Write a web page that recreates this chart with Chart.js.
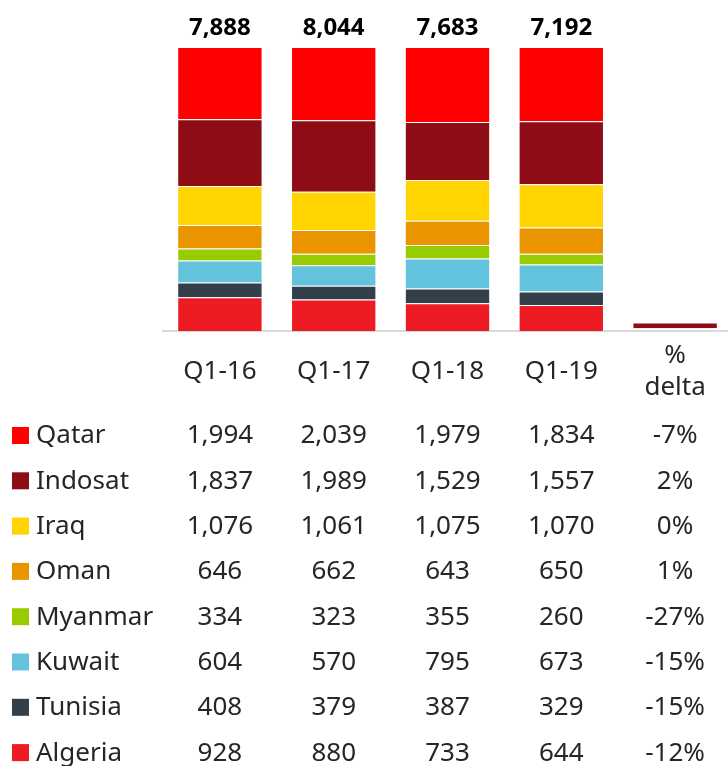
<!DOCTYPE html>
<html>
<head>
<meta charset="utf-8">
<script src="https://cdn.jsdelivr.net/npm/chart.js@4.4.1/dist/chart.umd.min.js"></script>
<style>
  html, body { margin: 0; padding: 0; background: #fff; overflow: hidden; }
  #wrap { width: 728px; height: 766px; position: relative; overflow: hidden; }
</style>
</head>
<body>
<div id="wrap"><canvas id="chart" width="732" height="766"></canvas></div>
<script>
// Categories (columns)
const periods = ['Q1-16', 'Q1-17', 'Q1-18', 'Q1-19'];
const deltaLabel = ['%', 'delta'];

// Series, in table order (top of table = top of stack)
const countries = ['Qatar', 'Indosat', 'Iraq', 'Oman', 'Myanmar', 'Kuwait', 'Tunisia', 'Algeria'];
const qatar   = [1994, 2039, 1979, 1834];
const indosat = [1837, 1989, 1529, 1557];
const iraq    = [1076, 1061, 1075, 1070];
const oman    = [646, 662, 643, 650];
const myanmar = [334, 323, 355, 260];
const kuwait  = [604, 570, 795, 673];
const tunisia = [408, 379, 387, 329];
const algeria = [928, 880, 733, 644];
const totals  = [7888, 8044, 7683, 7192];
const deltas  = [-7, 2, 0, 1, -27, -15, -15, -12];

const colors = ['#ff0000', '#8e0c15', '#ffd400', '#ea9400', '#99cc00', '#63c3dc', '#333f4a', '#ed1c24'];

const seriesValues = [qatar, indosat, iraq, oman, myanmar, kuwait, tunisia, algeria];

const FONT = '"Noto Sans", "Open Sans", sans-serif';
const TEXT = '#262626';

// 100% stacked: share of the shown segments in each column, plus the delta column
const colSums = periods.map((_, j) => seriesValues.reduce((s, arr) => s + arr[j], 0));
const datasets = countries.map((name, i) => {
    const shares = seriesValues[i].map((v, j) => v / colSums[j] * 100);
    return {
        label: name,
        data: shares.concat([Math.max(deltas[i], 0)]),
        backgroundColor: (ctx) => (ctx.dataIndex === 4 && name === 'Oman') ? 'rgba(255,255,255,0)' : colors[i],
        borderColor: 'rgba(255,255,255,0.5)',
        borderWidth: 1,
        barPercentage: 0.75,
        categoryPercentage: 1.0
    };
}).reverse(); // bottom of stack first

const tablePlugin = {
    id: 'tablePlugin',
    afterDraw(chart) {
        const ctx = chart.ctx;
        const x = chart.scales.x;
        ctx.save();
        ctx.textAlign = 'center';
        ctx.textBaseline = 'middle';

        // totals above bars
        ctx.fillStyle = '#000';
        ctx.font = 'bold 24px ' + FONT;
        totals.forEach((t, j) => {
            ctx.fillText(t.toLocaleString('en-US'), x.getPixelForValue(j), 28);
        });

        // header row
        ctx.fillStyle = TEXT;
        ctx.font = '26px ' + FONT;
        periods.forEach((p, j) => {
            ctx.fillText(p, x.getPixelForValue(j), 372);
        });
        ctx.fillText(deltaLabel[0], x.getPixelForValue(4), 356);
        ctx.fillText(deltaLabel[1], x.getPixelForValue(4), 388);

        // table rows with legend swatches
        const rowTop = 436, rowStep = 45.3;
        countries.forEach((name, i) => {
            const ry = rowTop + i * rowStep;
            ctx.fillStyle = colors[i];
            ctx.fillRect(12, ry - 9, 17, 17);
            ctx.fillStyle = TEXT;
            ctx.textAlign = 'left';
            ctx.fillText(name, 36, ry);
            ctx.textAlign = 'center';
            seriesValues[i].forEach((v, j) => {
                ctx.fillText(v.toLocaleString('en-US'), x.getPixelForValue(j), ry);
            });
            ctx.fillText(deltas[i] + '%', x.getPixelForValue(4), ry);
        });
        ctx.restore();
    }
};

new Chart(document.getElementById('chart').getContext('2d'), {
    type: 'bar',
    data: {
        labels: periods.concat([deltaLabel.join(' ')]),
        datasets: datasets
    },
    options: {
        responsive: false,
        animation: false,
        layout: { padding: { left: 163, right: 0, top: 47, bottom: 427 } },
        plugins: {
            legend: { display: false },
            tooltip: { enabled: false }
        },
        scales: {
            x: {
                stacked: true,
                grid: { display: false },
                ticks: { display: false },
                border: { display: true, color: '#d9d9d9', width: 2 }
            },
            y: {
                stacked: true,
                display: false,
                min: 0,
                max: 100
            }
        }
    },
    plugins: [tablePlugin]
});
</script>
</body>
</html>
